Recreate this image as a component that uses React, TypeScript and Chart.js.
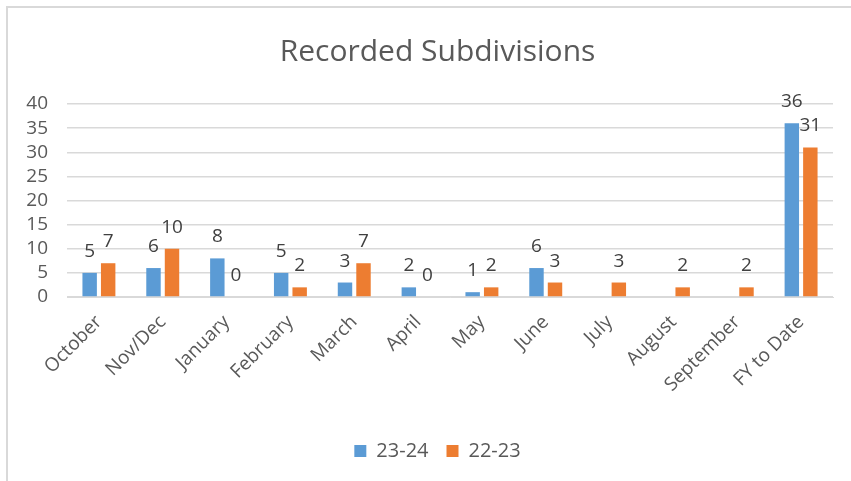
import React, { useEffect, useRef } from "react";
import { Chart, registerables } from "chart.js";

Chart.register(...registerables);

const categories = [
  "October", "Nov/Dec", "January", "February", "March", "April",
  "May", "June", "July", "August", "September", "FY to Date",
];
const series2324: (number | null)[] = [5, 6, 8, 5, 3, 2, 1, 6, null, null, null, 36];
const series2223: (number | null)[] = [7, 10, 0, 2, 7, 0, 2, 3, 3, 2, 2, 31];
const yTicks = [0, 5, 10, 15, 20, 25, 30, 35, 40];

const FONT = "'Open Sans', 'Noto Sans', sans-serif";

const dataLabelPlugin = {
  id: "dataLabels",
  afterDatasetsDraw(chart: any) {
    const ctx = chart.ctx;
    ctx.save();
    ctx.font = `19px ${FONT}`;
    ctx.fillStyle = "#404040";
    ctx.textAlign = "center";
    ctx.textBaseline = "alphabetic";
    chart.data.datasets.forEach((ds: any, i: number) => {
      const meta = chart.getDatasetMeta(i);
      meta.data.forEach((el: any, j: number) => {
        const v = ds.data[j];
        if (v === null || v === undefined) return;
        ctx.fillText(String(v), el.x, el.y - 16);
      });
    });
    ctx.restore();
  },
};

export default function App() {
  const ref = useRef<HTMLCanvasElement>(null);
  useEffect(() => {
    if (!ref.current) return;
    Chart.defaults.font.family = FONT;
    const chart = new Chart(ref.current, {
      type: "bar",
      data: {
        labels: categories,
        datasets: [
          {
            label: "23-24",
            data: series2324,
            backgroundColor: "#5B9BD5",
            categoryPercentage: 0.58,
            barPercentage: 0.78,
          },
          {
            label: "22-23",
            data: series2223,
            backgroundColor: "#ED7D31",
            categoryPercentage: 0.58,
            barPercentage: 0.78,
          },
        ],
      },
      options: {
        responsive: false,
        animation: false,
        layout: { padding: { left: 24, right: 0, top: 0, bottom: 10 } },
        plugins: {
          title: {
            display: true,
            text: "Recorded Subdivisions",
            color: "#595959",
            font: { size: 30, weight: "normal", family: FONT },
            padding: { top: 34, bottom: 34 },
          },
          legend: {
            position: "bottom",
            labels: {
              boxWidth: 12,
              boxHeight: 12,
              padding: 18,
              color: "#595959",
              font: { size: 20, family: FONT },
            },
          },
          tooltip: { enabled: false },
        },
        scales: {
          x: {
            grid: { display: false },
            border: { display: true, color: "#D9D9D9" },
            ticks: {
              color: "#595959",
              font: { size: 19, family: FONT },
              minRotation: 45,
              maxRotation: 45,
              autoSkip: false,
              padding: 6,
            },
            afterFit: (scale: any) => {
              scale.height = 126;
            },
          },
          y: {
            min: 0,
            max: 40,
            afterBuildTicks: (scale: any) => {
              scale.ticks = yTicks.map((v) => ({ value: v }));
            },
            grid: { color: "#D9D9D9", lineWidth: 1.5, drawTicks: false },
            border: { display: false },
            ticks: {
              color: "#595959",
              font: { size: 19, family: FONT },
              padding: 19,
              autoSkip: false,
            },
            afterFit: (scale: any) => {
              scale.width = 43;
            },
          },
          yRightSpace: {
            position: "right",
            display: true,
            grid: { display: false, drawTicks: false },
            border: { display: false },
            ticks: { display: false },
            afterFit: (scale: any) => {
              scale.width = 18;
            },
          },
        },
      },
      plugins: [dataLabelPlugin],
    });
    return () => chart.destroy();
  }, []);

  return (
    <div style={{ position: "absolute", left: 0, top: 0, width: 851, height: 481, background: "#fff", overflow: "hidden" }}>
      <div
        style={{
          position: "absolute",
          left: 6,
          top: 6,
          right: 0,
          bottom: 0,
          borderLeft: "2px solid #D9D9D9",
          borderTop: "2px solid #D9D9D9",
        }}
      />
      <canvas ref={ref} width={851} height={481} style={{ position: "absolute", left: 0, top: 0, display: "block" }} />
    </div>
  );
}
